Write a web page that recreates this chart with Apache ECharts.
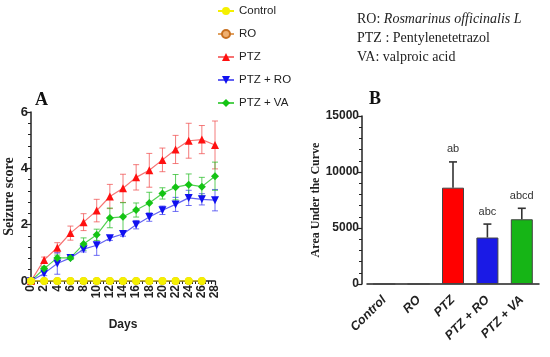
<!DOCTYPE html>
<html><head><meta charset="utf-8">
<script src="https://cdn.jsdelivr.net/npm/echarts@6/dist/echarts.min.js"></script>
<style>html,body{margin:0;padding:0;background:#fff}#c{width:550px;height:357px}</style>
</head><body><div id="c"></div>
<script>
// ---- Panel A data ----
const days = [0,2,4,6,8,10,12,14,16,18,20,22,24,26,28];
const controlDays = [0,2,4,6,8,10,12,14,16,18,20,22,24,26];
const controlScore = [0,0,0,0,0,0,0,0,0,0,0,0,0,0];
const roScore = [0,0,0,0,0,0,0,0,0,0,0,0,0,0];
const ptzScore = [0,0.75,1.18,1.7,2.09,2.5,3.0,3.29,3.68,3.93,4.3,4.67,4.98,5.02,4.83];
const ptzErr   = [0,0.1,0.18,0.25,0.3,0.4,0.43,0.5,0.45,0.6,0.42,0.5,0.62,0.5,0.85];
const ptzRoScore = [0,0.27,0.62,0.82,1.13,1.27,1.52,1.67,2.0,2.27,2.51,2.72,2.95,2.9,2.87];
const ptzRoErr   = [0,0.08,0.38,0.05,0.1,0.36,0.08,0.08,0.15,0.15,0.15,0.25,0.27,0.2,0.38];
const ptzVaScore = [0,0.44,0.82,0.82,1.31,1.64,2.24,2.28,2.52,2.77,3.11,3.33,3.42,3.35,3.72];
const ptzVaErr   = [0,0.08,0.1,0.06,0.22,0.2,0.35,0.5,0.25,0.38,0.2,0.45,0.38,0.33,0.5];

// ---- Panel B data ----
const groups = ['Control','RO','PTZ','PTZ + RO','PTZ + VA'];
const auc    = [0,0,8600,4150,5780];
const aucErr = [0,0,2300,1200,980];
const sigLetters = ['','','ab','abc','abcd'];
const barColors = ['#ffff00','#d9822b','#ff0000','#1a1ae6','#16b516'];

const chart = echarts.init(document.getElementById('c'));

function zip(xs, ys){ return ys.map((y,i)=>[xs[i], y]); }
function zip3(xs, ys, es){ return xs.map((x,i)=>[x, ys[i], es[i]]); }

function errRenderA(color){
  return function(params, api){
    const x = api.value(0), v = api.value(1), e = api.value(2);
    if (!e) return;
    const top = api.coord([x, v+e]);
    const bot = api.coord([x, v-e]);
    const hw = 3;
    const st = {stroke: color, lineWidth: 1};
    return {type:'group', children:[
      {type:'line', shape:{x1:top[0],y1:top[1],x2:bot[0],y2:bot[1]}, style:st},
      {type:'line', shape:{x1:top[0]-hw,y1:top[1],x2:top[0]+hw,y2:top[1]}, style:st},
      {type:'line', shape:{x1:bot[0]-hw,y1:bot[1],x2:bot[0]+hw,y2:bot[1]}, style:st}
    ]};
  };
}

function errRenderB(params, api){
  const i = api.value(0);
  const v = api.value(1), e = api.value(2);
  const lab = sigLetters[params.dataIndex];
  if (!v) return;
  const base = api.coord([i, v]);
  const top = api.coord([i, v+e]);
  const hw = 4;
  const st = {stroke:'#333', lineWidth:1.6};
  return {type:'group', children:[
    {type:'line', shape:{x1:base[0],y1:base[1],x2:top[0],y2:top[1]}, style:st},
    {type:'line', shape:{x1:top[0]-hw,y1:top[1],x2:top[0]+hw,y2:top[1]}, style:st},
    {type:'text', x: top[0], y: top[1]-7, style:{text: lab, fill:'#333', font:'11px "Liberation Sans Narrow", "Liberation Sans", Arial', align:'center', verticalAlign:'bottom'}}
  ]};
}

const lineCommon = {type:'line', xAxisIndex:0, yAxisIndex:0, symbolSize:8};

chart.setOption({
  animation:false,
  backgroundColor:'#fff',
  legend:{
    orient:'vertical', left:212, top:0, itemGap:11, itemWidth:16, itemHeight:10,
    textStyle:{fontSize:11.5, color:'#222', fontFamily:'"Liberation Sans Narrow", "Liberation Sans", Arial'},
    data:['Control','RO','PTZ','PTZ + RO','PTZ + VA']
  },
  graphic:[
    {type:'text', left:35, top:91, style:{text:'A', font:'bold 18px "Liberation Serif", serif', fill:'#111'}},
    {type:'text', left:369, top:90, style:{text:'B', font:'bold 18px "Liberation Serif", serif', fill:'#111'}},
    {type:'text', left:357, top:12, style:{
      rich:{n:{font:'14px "Liberation Serif", serif', fill:'#222', lineHeight:19}, i:{font:'italic 14px "Liberation Serif", serif', fill:'#222', lineHeight:19}},
      text:'{n|RO: }{i|Rosmarinus officinalis L}\n{n|PTZ : Pentylenetetrazol}\n{n|VA: valproic acid}'
    }}
  ],
  grid:[
    {left:31, top:112, width:184, height:169},
    {left:367, top:116, right:11, height:168}
  ],
  xAxis:[
    {type:'value', gridIndex:0, min:0, max:28, interval:2,
     name:'Days', nameLocation:'middle', nameGap:38,
     nameTextStyle:{fontSize:12, fontWeight:'bold', color:'#222', fontFamily:'"Liberation Sans Narrow", "Liberation Sans", Arial'},
     axisLine:{lineStyle:{color:'#222', width:1.5}},
     axisTick:{length:4, lineStyle:{color:'#222', width:1.2}},
     minorTick:{show:true, splitNumber:4, length:3, lineStyle:{color:'#222', width:1}},
     splitLine:{show:false},
     axisLabel:{rotate:90, margin:4, fontSize:12, fontWeight:'bold', color:'#222', fontFamily:'"Liberation Sans", Arial'}
    },
    {type:'category', gridIndex:1, data:groups,
     axisLine:{lineStyle:{color:'#222', width:1.5}},
     axisTick:{alignWithLabel:true, length:6, lineStyle:{color:'#222', width:1.5}},
     axisLabel:{rotate:45, margin:14, fontSize:12.5, fontWeight:'bold', fontStyle:'italic', color:'#222', fontFamily:'"Liberation Sans", Arial'}
    }
  ],
  yAxis:[
    {type:'value', gridIndex:0, min:0, max:6, interval:2,
     name:'Seizure score', nameLocation:'middle', nameGap:14,
     nameTextStyle:{fontSize:14, fontWeight:'bold', color:'#222', fontFamily:'"Liberation Serif", serif'},
     axisLine:{show:true, lineStyle:{color:'#222', width:1.5}},
     axisTick:{show:true, length:5, lineStyle:{color:'#222', width:1.2}},
     minorTick:{show:true, splitNumber:5, length:3, lineStyle:{color:'#222', width:1}},
     splitLine:{show:false},
     axisLabel:{margin:3, fontSize:13, fontWeight:'bold', color:'#222', fontFamily:'"Liberation Sans", Arial'}
    },
    {type:'value', gridIndex:1, min:0, max:15000, interval:5000, offset:5,
     name:'Area Under the Curve', nameLocation:'middle', nameGap:25,
     nameTextStyle:{fontSize:12, fontWeight:'bold', color:'#222', fontFamily:'"Liberation Serif", serif'},
     axisLine:{show:true, lineStyle:{color:'#222', width:1.5}},
     axisTick:{show:true, length:4, lineStyle:{color:'#222', width:1.2}},
     minorTick:{show:true, splitNumber:5, length:3, lineStyle:{color:'#222', width:1}},
     splitLine:{show:false},
     axisLabel:{margin:3, fontSize:12, fontWeight:'bold', color:'#222', fontFamily:'"Liberation Sans", Arial', formatter:(v)=>String(v)}
    }
  ],
  series:[
    {type:'custom', xAxisIndex:0, yAxisIndex:0, renderItem:errRenderA('rgba(240,80,80,0.75)'), data:zip3(days, ptzScore, ptzErr), z:1},
    {type:'custom', xAxisIndex:0, yAxisIndex:0, renderItem:errRenderA('rgba(60,60,240,0.75)'), data:zip3(days, ptzRoScore, ptzRoErr), z:1},
    {type:'custom', xAxisIndex:0, yAxisIndex:0, renderItem:errRenderA('rgba(40,190,40,0.75)'), data:zip3(days, ptzVaScore, ptzVaErr), z:1},
    Object.assign({}, lineCommon, {name:'PTZ', data:zip(days, ptzScore), symbol:'triangle', symbolSize:8,
      itemStyle:{color:'#ff1010'}, lineStyle:{color:'rgba(245,90,90,0.85)', width:1.2}, z:3}),
    Object.assign({}, lineCommon, {name:'PTZ + RO', data:zip(days, ptzRoScore), symbol:'triangle', symbolRotate:180, symbolSize:8,
      itemStyle:{color:'#1010f0'}, lineStyle:{color:'rgba(70,70,240,0.85)', width:1.2}, z:3}),
    Object.assign({}, lineCommon, {name:'PTZ + VA', data:zip(days, ptzVaScore), symbol:'diamond', symbolSize:8,
      itemStyle:{color:'#14c414'}, lineStyle:{color:'rgba(50,200,50,0.85)', width:1.2}, z:3}),
    Object.assign({}, lineCommon, {name:'RO', data:zip(days, roScore), symbol:'circle', symbolSize:6,
      itemStyle:{color:'#f0b070', borderColor:'#c87020', borderWidth:1.5}, lineStyle:{color:'#e0a060', width:1}, z:4}),
    Object.assign({}, lineCommon, {name:'Control', data:zip(controlDays, controlScore), symbol:'circle', symbolSize:8,
      itemStyle:{color:'#f5f000'}, lineStyle:{color:'#f5f000', width:1}, z:5}),
    {type:'bar', xAxisIndex:1, yAxisIndex:1, data:auc.map((v,i)=>({value:v, itemStyle:{color:barColors[i]}})),
     barWidth:22, itemStyle:{borderColor:'#444', borderWidth:1}},
    {type:'custom', xAxisIndex:1, yAxisIndex:1, renderItem:errRenderB, data:groups.map((g,i)=>[i, auc[i], aucErr[i]]), z:5}
  ]
});
</script></body></html>
